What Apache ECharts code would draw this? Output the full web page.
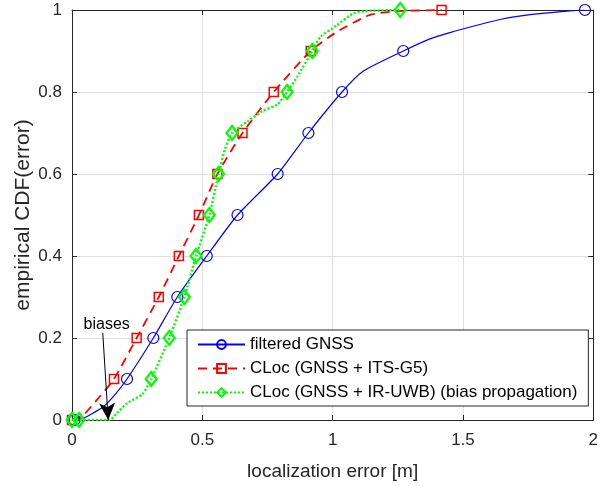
<!DOCTYPE html>
<html>
<head>
<meta charset="utf-8">
<script src="https://cdn.jsdelivr.net/npm/echarts@6/dist/echarts.min.js"></script>
<style>html,body{margin:0;padding:0;background:#fff;}#chart{width:601px;height:486px;}</style>
</head>
<body>
<div id="chart"></div>
<script>
// ---- data ----
const seriesNames = ['filtered GNSS', 'CLoc (GNSS + ITS-G5)', 'CLoc (GNSS + IR-UWB) (bias propagation)'];
const xTicks = [0, 0.5, 1, 1.5, 2];
const yTicks = [0, 0.2, 0.4, 0.6, 0.8, 1];

// filtered GNSS
const gnssMarkerX = [0.01, 0.211, 0.312, 0.404, 0.517, 0.635, 0.789, 0.907, 1.036, 1.271, 1.968];
const gnssMarkerY = [0, 0.1, 0.2, 0.3, 0.4, 0.5, 0.6, 0.7, 0.8, 0.9, 1.0];
const gnssPathX = [0.04, 0.07, 0.118, 0.16, 1.118, 1.371, 1.45, 1.561, 1.65, 1.751, 1.877];
const gnssPathY = [0.003, 0.013, 0.031, 0.058, 0.851, 0.929, 0.945, 0.964, 0.978, 0.988, 0.996];

// CLoc ITS-G5
const itsMarkerX = [0.0, 0.161, 0.248, 0.333, 0.410, 0.487, 0.558, 0.654, 0.774, 0.916, 1.418];
const itsMarkerY = [0, 0.1, 0.2, 0.3, 0.4, 0.5, 0.6, 0.7, 0.8, 0.9, 1.0];
const itsPathX = [0.04, 0.09, 1.017, 1.143, 1.245];
const itsPathY = [0.01, 0.045, 0.947, 0.988, 0.997];

// CLoc IR-UWB
const uwbMarkerX = [0.0, 0.027, 0.304, 0.373, 0.431, 0.476, 0.527, 0.562, 0.614, 0.825, 0.922, 1.259];
const uwbMarkerY = [0, 0, 0.1, 0.2, 0.3, 0.4, 0.5, 0.6, 0.7, 0.8, 0.9, 1.0];
const uwbPathX = [0.144, 0.17, 0.207, 0.27, 0.587, 0.675, 0.732, 0.789, 0.865, 0.954, 1.017, 1.08, 1.143];
const uwbPathY = [0, 0.015, 0.039, 0.063, 0.661, 0.729, 0.754, 0.77, 0.838, 0.935, 0.963, 0.992, 0.998];

// annotation
const biasText = 'biases';
const biasTextPos = [0.133, 0.232];
const biasArrowFrom = [0.118, 0.2125];
const biasArrowTo = [0.139, 0];

// ---- build ----
function build(mx, my, px, py) {
  const pts = [];
  mx.forEach((x, i) => pts.push({ value: [x, my[i]] }));
  px.forEach((x, i) => pts.push({ value: [x, py[i]], symbol: 'none' }));
  pts.sort((a, b) => a.value[0] - b.value[0] || a.value[1] - b.value[1]);
  return pts;
}

const FONT = 'Liberation Sans, Arial, Helvetica, sans-serif';
const AX = '#262626';
const GRID = '#dfdfdf';

const chart = echarts.init(document.getElementById('chart'), null, { renderer: 'canvas' });

function axisCommon(extra) {
  return Object.assign({
    type: 'value',
    axisLine: { show: true, onZero: false, lineStyle: { color: AX, width: 1 } },
    axisTick: { show: true, inside: true, length: 5, lineStyle: { color: AX } },
    splitLine: { show: false },
  }, extra);
}

const option = {
  animation: false,
  backgroundColor: '#fff',
  grid: { left: 72, right: 2, top: 10, bottom: 63 },
  xAxis: [
    axisCommon({
      min: xTicks[0], max: xTicks[xTicks.length - 1], interval: 0.5,
      name: 'localization error [m]', nameLocation: 'middle', nameGap: 42,
      nameTextStyle: { fontFamily: FONT, fontSize: 19, color: AX },
      axisLabel: { margin: 12, fontFamily: FONT, fontSize: 17, color: AX },
      splitLine: { show: true, lineStyle: { color: GRID, width: 1 } },
    }),
    axisCommon({
      position: 'top', min: xTicks[0], max: xTicks[xTicks.length - 1], interval: 0.5,
      axisLabel: { show: false },
    }),
  ],
  yAxis: [
    axisCommon({
      min: yTicks[0], max: yTicks[yTicks.length - 1], interval: 0.2,
      name: 'empirical CDF(error)', nameLocation: 'middle', nameGap: 38,
      nameMoveOverlap: false,
      nameTextStyle: { fontFamily: FONT, fontSize: 21, color: AX },
      axisLabel: { margin: 10, fontFamily: FONT, fontSize: 17, color: AX },
      splitLine: { show: true, lineStyle: { color: GRID, width: 1 } },
    }),
    axisCommon({
      position: 'right', min: yTicks[0], max: yTicks[yTicks.length - 1], interval: 0.2,
      axisLabel: { show: false },
    }),
  ],
  legend: {
    orient: 'vertical',
    left: 187, top: 330,
    padding: [6, 11, 5, 10],
    itemGap: 7,
    itemWidth: 47, itemHeight: 11,
    backgroundColor: '#fff',
    borderColor: AX, borderWidth: 1,
    textStyle: { fontFamily: FONT, fontSize: 17, color: '#000', lineHeight: 17 },
    data: seriesNames,
  },
  series: [
    {
      name: seriesNames[0], type: 'line', z: 3,
      data: build(gnssMarkerX, gnssMarkerY, gnssPathX, gnssPathY),
      smooth: 0.2,
      showAllSymbol: true, symbol: 'circle', symbolSize: 11,
      lineStyle: { color: '#0000ff', width: 1.2, type: 'solid' },
      itemStyle: { color: 'rgba(0,0,0,0)', borderColor: '#0000ff', borderWidth: 1.2 },
      markLine: {
        silent: true, animation: false,
        lineStyle: { color: '#000', width: 1, type: 'solid' },
        label: { show: false },
        data: [[
          { coord: biasArrowFrom, symbol: 'none' },
          { coord: biasArrowTo, symbol: 'arrow', symbolSize: [12, 17] }
        ]],
      },
      markPoint: {
        silent: true, animation: false,
        symbol: 'circle', symbolSize: 0,
        label: { show: true, position: 'inside', formatter: biasText, fontFamily: FONT, fontSize: 16, color: '#000' },
        data: [{ coord: biasTextPos }],
      },
    },
    {
      name: seriesNames[1], type: 'line', z: 2,
      data: build(itsMarkerX, itsMarkerY, itsPathX, itsPathY),
      smooth: 0.2,
      showAllSymbol: true, symbol: 'rect', symbolSize: 9,
      lineStyle: { color: '#ff0000', width: 1.8, type: [9, 6] },
      itemStyle: { color: 'rgba(0,0,0,0)', borderColor: '#ff0000', borderWidth: 1.5 },
    },
    {
      name: seriesNames[2], type: 'line', z: 4,
      data: build(uwbMarkerX, uwbMarkerY, uwbPathX, uwbPathY),
      smooth: 0.2,
      showAllSymbol: true, symbol: 'diamond', symbolSize: [11, 14],
      lineStyle: { color: '#00ff00', width: 2.4, type: [2, 2] },
      itemStyle: { color: 'rgba(0,0,0,0)', borderColor: '#00ff00', borderWidth: 2.2 },
    },
  ],
};
chart.setOption(option);
</script>
</body>
</html>
